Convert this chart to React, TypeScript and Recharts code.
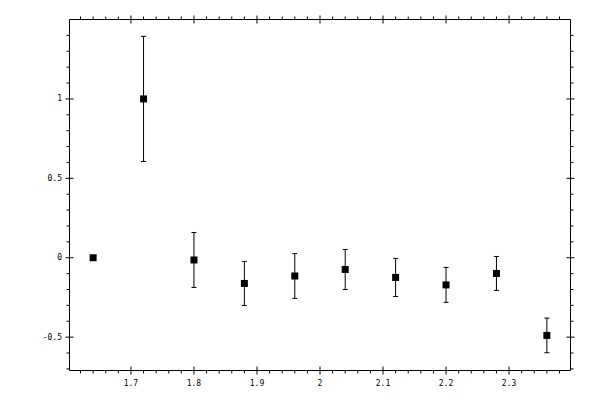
import React from "react";
import { ComposedChart, Scatter, XAxis, YAxis, ErrorBar } from "recharts";

// data points
const xs = [1.64, 1.72, 1.8, 1.88, 1.96, 2.04, 2.12, 2.2, 2.28, 2.36];
const ys = [0, 1.0, -0.014, -0.162, -0.115, -0.074, -0.124, -0.171, -0.099, -0.489];
const errs = [0, 0.394, 0.173, 0.139, 0.141, 0.126, 0.12, 0.11, 0.107, 0.109];

const xMajor = [1.7, 1.8, 1.9, 2, 2.1, 2.2, 2.3];
const xMinor = [
  1.62, 1.64, 1.66, 1.68, 1.72, 1.74, 1.76, 1.78, 1.82, 1.84, 1.86, 1.88, 1.92, 1.94, 1.96, 1.98,
  2.02, 2.04, 2.06, 2.08, 2.12, 2.14, 2.16, 2.18, 2.22, 2.24, 2.26, 2.28, 2.32, 2.34, 2.36, 2.38,
];
const yMajor = [-0.5, 0, 0.5, 1];
const yMinor = [-0.7, -0.6, -0.4, -0.3, -0.2, -0.1, 0.1, 0.2, 0.3, 0.4, 0.6, 0.7, 0.8, 0.9, 1.1, 1.2, 1.3, 1.4];

const xDomain = [1.6025, 2.3975];
const yDomain = [-0.71, 1.5];

const data = xs.map((x, i) => ({ x, y: ys[i], err: errs[i] }));

const font = { fontFamily: "DejaVu Sans Mono", fontSize: 8, fill: "#000" };
const isMajor = (list: number[], v: number) => list.some((m) => Math.abs(m - v) < 1e-9);

const BottomTick = ({ x, y, payload }: any) => {
  const major = isMajor(xMajor, payload.value);
  return (
    <g>
      <line x1={x} x2={x} y1={major ? y - 4 : y} y2={major ? y + 4 : y + 3} stroke="#000" />
      {major && (
        <text x={x} y={y + 13} textAnchor="middle" dominantBaseline="central" {...font}>
          {payload.value}
        </text>
      )}
    </g>
  );
};

const TopTick = ({ x, y, payload }: any) => {
  const major = isMajor(xMajor, payload.value);
  return <line x1={x} x2={x} y1={major ? y - 4 : y - 3} y2={major ? y + 4 : y} stroke="#000" />;
};

const LeftTick = ({ x, y, payload }: any) => {
  const major = isMajor(yMajor, payload.value);
  return (
    <g>
      <line x1={major ? x - 4 : x - 3} x2={major ? x + 4 : x} y1={y} y2={y} stroke="#000" />
      {major && (
        <text x={x - 7.5} y={y} textAnchor="end" dominantBaseline="central" {...font}>
          {payload.value}
        </text>
      )}
    </g>
  );
};

const RightTick = ({ x, y, payload }: any) => {
  const major = isMajor(yMajor, payload.value);
  return <line x1={major ? x - 4 : x} x2={major ? x + 4 : x + 3} y1={y} y2={y} stroke="#000" />;
};

const Square = ({ cx, cy }: any) => <rect x={cx - 3.5} y={cy - 3.5} width={7} height={7} fill="#000" />;

export default function App() {
  const xTicks = [...xMinor, ...xMajor].sort((a, b) => a - b);
  const yTicks = [...yMinor, ...yMajor].sort((a, b) => a - b);
  return (
    <div style={{ position: "absolute", left: 0, top: 0, background: "#fff" }}>
      <ComposedChart
        width={600}
        height={400}
        data={data}
        margin={{ top: 18.5, right: 28.5, bottom: 28.5, left: 68.5 }}
      >
        <XAxis
          dataKey="x"
          type="number"
          domain={xDomain}
          allowDataOverflow
          ticks={xTicks}
          interval={0}
          height={1}
          tickSize={0}
          tickMargin={0}
          tickLine={false}
          axisLine={{ stroke: "#000" }}
          tick={<BottomTick />}
        />
        <XAxis
          xAxisId="top"
          orientation="top"
          dataKey="x"
          type="number"
          domain={xDomain}
          allowDataOverflow
          ticks={xTicks}
          interval={0}
          height={1}
          tickSize={0}
          tickMargin={0}
          tickLine={false}
          axisLine={{ stroke: "#000" }}
          tick={<TopTick />}
        />
        <YAxis
          dataKey="y"
          type="number"
          domain={yDomain}
          allowDataOverflow
          ticks={yTicks}
          interval={0}
          width={1}
          tickSize={0}
          tickMargin={0}
          tickLine={false}
          axisLine={{ stroke: "#000" }}
          tick={<LeftTick />}
        />
        <YAxis
          yAxisId="right"
          orientation="right"
          dataKey="y"
          type="number"
          domain={yDomain}
          allowDataOverflow
          ticks={yTicks}
          interval={0}
          width={1}
          tickSize={0}
          tickMargin={0}
          tickLine={false}
          axisLine={{ stroke: "#000" }}
          tick={<RightTick />}
        />
        <Scatter dataKey="y" shape={<Square />} isAnimationActive={false}>
          <ErrorBar dataKey="err" direction="y" width={2.5} stroke="#000" strokeWidth={1} isAnimationActive={false} />
        </Scatter>
      </ComposedChart>
    </div>
  );
}
